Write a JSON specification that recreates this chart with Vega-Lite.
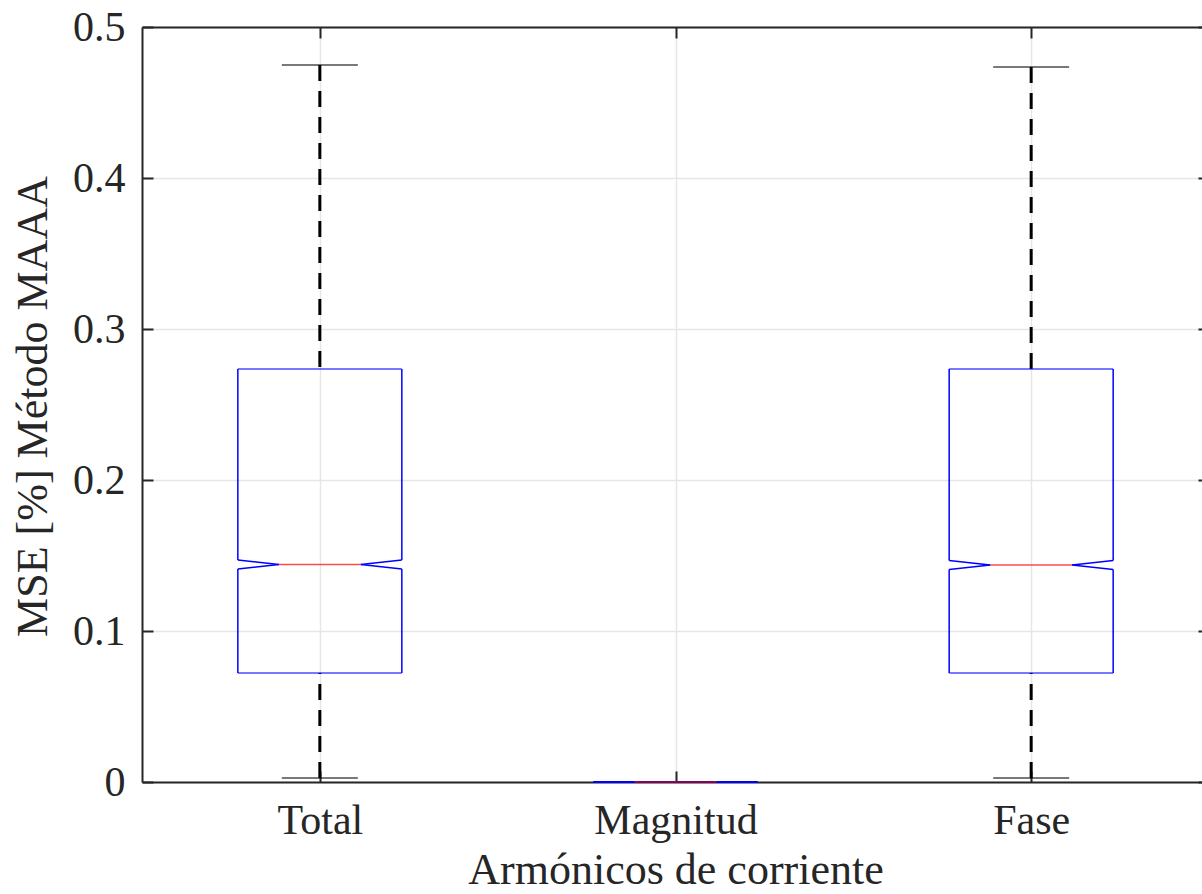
{
  "$schema": "https://vega.github.io/schema/vega-lite/v6.json",
  "autosize": "none",
  "padding": {"left": 142, "top": 27, "right": 0, "bottom": 112},
  "width": 1067,
  "height": 755,
  "background": "white",
  "config": {
    "view": {"stroke": null},
    "font": "Liberation Serif",
    "axis": {
      "labelFont": "Liberation Serif",
      "titleFont": "Liberation Serif",
      "labelColor": "#262626",
      "titleColor": "#262626",
      "titleFontWeight": "normal",
      "domainColor": "#262626",
      "domainWidth": 2,
      "tickColor": "#262626",
      "tickWidth": 2,
      "gridColor": "#e6e6e6",
      "gridWidth": 1.5,
      "gridOpacity": 1
    }
  },
  "data": {
    "values": [
      {"cat": "Total", "lo": 0.0026, "q1": 0.0722, "nlo": 0.1411, "med": 0.1440, "nhi": 0.1470, "q3": 0.2735, "hi": 0.4748},
      {"cat": "Magnitud", "lo": 0, "q1": 0.00003, "nlo": 0.00004, "med": 0.00005, "nhi": 0.00006, "q3": 0.0001, "hi": 0.0002},
      {"cat": "Fase", "lo": 0.0026, "q1": 0.0722, "nlo": 0.1408, "med": 0.1437, "nhi": 0.1467, "q3": 0.2735, "hi": 0.4735}
    ]
  },
  "resolve": {"axis": {"x": "independent", "y": "independent"}},
  "layer": [
    {
      "mark": {"type": "rule", "color": "black", "strokeWidth": 3, "strokeDash": [16, 10]},
      "encoding": {
        "x": {"field": "cat", "type": "nominal", "sort": ["Total", "Magnitud", "Fase"], "scale": {"type": "point", "padding": 0.5},
          "axis": {"orient": "bottom", "title": "Armónicos de corriente", "grid": true, "tickSize": -11, "labelPadding": 62, "labelBaseline": "alphabetic", "labelAngle": 0, "labelFontSize": 42, "titleFontSize": 44, "titleBaseline": "alphabetic", "titleY": 101}},
        "y": {"field": "hi", "type": "quantitative", "scale": {"domain": [0, 0.5], "nice": false, "zero": false},
          "axis": {"orient": "left", "title": "MSE [%] Método MAAA", "grid": true, "values": [0, 0.1, 0.2, 0.3, 0.4, 0.5], "labelExpr": "datum.value == 0 ? '0' : format(datum.value, '.1f')", "tickSize": -11, "labelPadding": 28, "labelFontSize": 42, "labelBaseline": "middle", "titleFontSize": 44, "titleAngle": 270, "titleBaseline": "alphabetic", "titleAlign": "center", "titleX": -96, "titleY": 379}},
        "y2": {"field": "q3"}
      }
    },
    {
      "mark": {"type": "rule", "color": "black", "strokeWidth": 3, "strokeDash": [16, 10]},
      "encoding": {
        "x": {"field": "cat", "type": "nominal", "sort": ["Total", "Magnitud", "Fase"],
          "axis": {"orient": "top", "title": null, "labels": false, "grid": false, "tickSize": -11}},
        "y": {"field": "lo", "type": "quantitative",
          "axis": {"orient": "right", "title": null, "labels": false, "grid": false, "values": [0, 0.1, 0.2, 0.3, 0.4, 0.5], "tickSize": -11}},
        "y2": {"field": "q1"}
      }
    },
    {
      "mark": {"type": "tick", "color": "black", "size": 76, "thickness": 1.5},
      "encoding": {
        "x": {"field": "cat", "type": "nominal", "sort": ["Total", "Magnitud", "Fase"], "axis": null},
        "y": {"field": "hi", "type": "quantitative", "axis": null}
      }
    },
    {
      "mark": {"type": "tick", "color": "black", "size": 76, "thickness": 1.5},
      "encoding": {
        "x": {"field": "cat", "type": "nominal", "sort": ["Total", "Magnitud", "Fase"], "axis": null},
        "y": {"field": "lo", "type": "quantitative", "axis": null}
      }
    },
    {
      "mark": {"type": "tick", "color": "#0000ff", "size": 164, "thickness": 1.5},
      "encoding": {
        "x": {"field": "cat", "type": "nominal", "sort": ["Total", "Magnitud", "Fase"], "axis": null},
        "y": {"field": "q3", "type": "quantitative", "axis": null}
      }
    },
    {
      "mark": {"type": "tick", "color": "#0000ff", "size": 164, "thickness": 1.5},
      "encoding": {
        "x": {"field": "cat", "type": "nominal", "sort": ["Total", "Magnitud", "Fase"], "axis": null},
        "y": {"field": "q1", "type": "quantitative", "axis": null}
      }
    },
    {
      "mark": {"type": "rule", "color": "#0000ff", "strokeWidth": 1.5, "xOffset": -82},
      "encoding": {
        "x": {"field": "cat", "type": "nominal", "sort": ["Total", "Magnitud", "Fase"], "axis": null},
        "y": {"field": "q3", "type": "quantitative", "axis": null},
        "y2": {"field": "nhi"}
      }
    },
    {
      "mark": {"type": "rule", "color": "#0000ff", "strokeWidth": 1.5, "xOffset": 82},
      "encoding": {
        "x": {"field": "cat", "type": "nominal", "sort": ["Total", "Magnitud", "Fase"], "axis": null},
        "y": {"field": "q3", "type": "quantitative", "axis": null},
        "y2": {"field": "nhi"}
      }
    },
    {
      "mark": {"type": "rule", "color": "#0000ff", "strokeWidth": 1.5, "xOffset": -82},
      "encoding": {
        "x": {"field": "cat", "type": "nominal", "sort": ["Total", "Magnitud", "Fase"], "axis": null},
        "y": {"field": "nlo", "type": "quantitative", "axis": null},
        "y2": {"field": "q1"}
      }
    },
    {
      "mark": {"type": "rule", "color": "#0000ff", "strokeWidth": 1.5, "xOffset": 82},
      "encoding": {
        "x": {"field": "cat", "type": "nominal", "sort": ["Total", "Magnitud", "Fase"], "axis": null},
        "y": {"field": "nlo", "type": "quantitative", "axis": null},
        "y2": {"field": "q1"}
      }
    },
    {
      "mark": {"type": "rule", "color": "#0000ff", "strokeWidth": 1.5, "xOffset": -82, "x2Offset": -41},
      "encoding": {
        "x": {"field": "cat", "type": "nominal", "sort": ["Total", "Magnitud", "Fase"], "axis": null},
        "x2": {"field": "cat"},
        "y": {"field": "nhi", "type": "quantitative", "axis": null},
        "y2": {"field": "med"}
      }
    },
    {
      "mark": {"type": "rule", "color": "#0000ff", "strokeWidth": 1.5, "xOffset": -82, "x2Offset": -41},
      "encoding": {
        "x": {"field": "cat", "type": "nominal", "sort": ["Total", "Magnitud", "Fase"], "axis": null},
        "x2": {"field": "cat"},
        "y": {"field": "nlo", "type": "quantitative", "axis": null},
        "y2": {"field": "med"}
      }
    },
    {
      "mark": {"type": "rule", "color": "#0000ff", "strokeWidth": 1.5, "xOffset": 82, "x2Offset": 41},
      "encoding": {
        "x": {"field": "cat", "type": "nominal", "sort": ["Total", "Magnitud", "Fase"], "axis": null},
        "x2": {"field": "cat"},
        "y": {"field": "nhi", "type": "quantitative", "axis": null},
        "y2": {"field": "med"}
      }
    },
    {
      "mark": {"type": "rule", "color": "#0000ff", "strokeWidth": 1.5, "xOffset": 82, "x2Offset": 41},
      "encoding": {
        "x": {"field": "cat", "type": "nominal", "sort": ["Total", "Magnitud", "Fase"], "axis": null},
        "x2": {"field": "cat"},
        "y": {"field": "nlo", "type": "quantitative", "axis": null},
        "y2": {"field": "med"}
      }
    },
    {
      "mark": {"type": "tick", "color": "#ff0000", "size": 82, "thickness": 1.5},
      "encoding": {
        "x": {"field": "cat", "type": "nominal", "sort": ["Total", "Magnitud", "Fase"], "axis": null},
        "y": {"field": "med", "type": "quantitative", "axis": null}
      }
    }
  ]
}
